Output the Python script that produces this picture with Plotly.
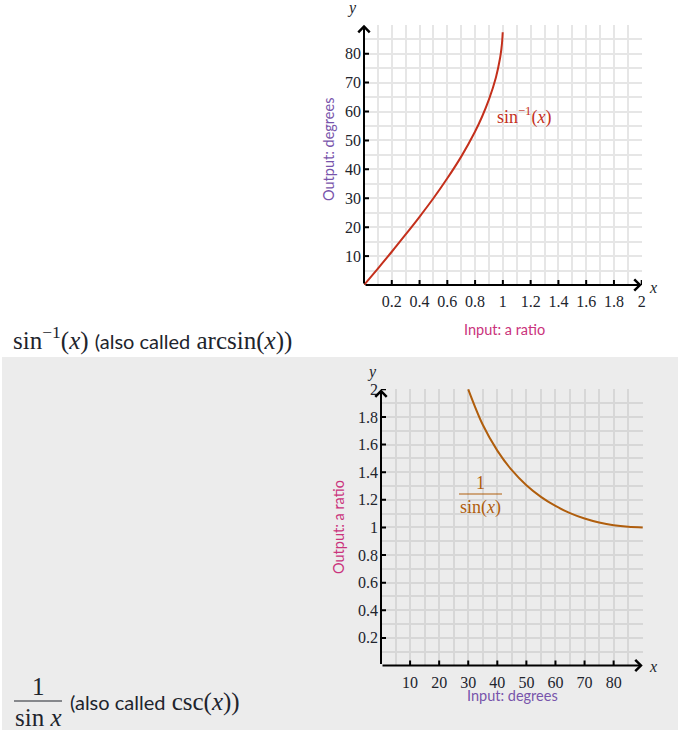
import plotly.graph_objects as go

W, H = 686, 747

# ---- data ----
asin_x = [0, 0.1, 0.2, 0.3, 0.4, 0.5, 0.6, 0.7, 0.8, 0.85, 0.9, 0.95, 0.98, 0.99, 0.995, 0.999]
asin_deg = [0, 5.7, 11.5, 17.5, 23.6, 30.0, 36.9, 44.4, 53.1, 58.2, 64.2, 71.8, 78.5, 81.9, 84.3, 87.4]

csc_deg = [30, 35, 40, 45, 50, 55, 60, 65, 70, 75, 80, 85, 90]
csc_val = [2.0, 1.743, 1.556, 1.414, 1.305, 1.221, 1.155, 1.103, 1.064, 1.035, 1.015, 1.004, 1.0]

top_xticks = [0.2, 0.4, 0.6, 0.8, 1, 1.2, 1.4, 1.6, 1.8, 2]
top_xtext = ["0.2", "0.4", "0.6", "0.8", "1", "1.2", "1.4", "1.6", "1.8", "2"]
top_yticks = [10, 20, 30, 40, 50, 60, 70, 80]
bot_xticks = [10, 20, 30, 40, 50, 60, 70, 80]
bot_yticks = [0.2, 0.4, 0.6, 0.8, 1, 1.2, 1.4, 1.6, 1.8, 2]
bot_ytext = ["0.2", "0.4", "0.6", "0.8", "1", "1.2", "1.4", "1.6", "1.8", "2"]

RED = "#c4301c"
ORANGE = "#b05e0d"
PURPLE = "#7854ab"
PINK = "#ca337c"
INK = "#21242c"
SERIF = "Liberation Serif"
SANS = "Lato"


def px(x, y):
    return x / W, 1 - y / H


fig = go.Figure()
fig.add_trace(go.Scatter(x=asin_x, y=asin_deg, mode="lines", line=dict(color=RED, width=2, shape="spline"),
                         xaxis="x", yaxis="y", hoverinfo="skip", showlegend=False))
fig.add_trace(go.Scatter(x=csc_deg, y=csc_val, mode="lines", line=dict(color=ORANGE, width=2, shape="spline"),
                         xaxis="x2", yaxis="y2", hoverinfo="skip", showlegend=False))

tickfont = dict(family=SERIF, size=16, color=INK)

x1d = [364 / W, 642 / W]
y1d = [1 - 285 / H, 1 - 24.5 / H]
x2d = [381 / W, 643 / W]
y2d = [1 - 665.5 / H, 1 - 389 / H]

fig.update_layout(
    width=W, height=H, margin=dict(l=0, r=0, t=0, b=0, autoexpand=False),
    paper_bgcolor="white", plot_bgcolor="rgba(0,0,0,0)",
    xaxis=dict(domain=x1d, range=[0, 2.002], anchor="y", tickvals=top_xticks, ticktext=top_xtext,
               ticks="", tickfont=tickfont, ticklabelstandoff=5, showline=False, zeroline=False,
               showgrid=True, gridcolor="#e6e6e6", gridwidth=2, automargin=False,
               minor=dict(dtick=0.1, tick0=0, showgrid=True, gridcolor="#e6e6e6", gridwidth=2)),
    yaxis=dict(domain=y1d, range=[0, 90.1], anchor="x", tickvals=top_yticks,
               ticks="", tickfont=tickfont, ticklabelstandoff=2, showline=False, zeroline=False,
               showgrid=True, gridcolor="#e6e6e6", gridwidth=2, automargin=False,
               minor=dict(dtick=5, tick0=0, showgrid=True, gridcolor="#e6e6e6", gridwidth=2)),
    xaxis2=dict(domain=x2d, range=[0, 90.1], anchor="y2", tickvals=bot_xticks,
                ticks="", tickfont=tickfont, ticklabelstandoff=5, showline=False, zeroline=False,
                showgrid=True, gridcolor="#d7d7d7", gridwidth=2, automargin=False,
                minor=dict(dtick=5, tick0=0, showgrid=True, gridcolor="#d7d7d7", gridwidth=2)),
    yaxis2=dict(domain=y2d, range=[0, 2.002], anchor="x2", tickvals=bot_yticks, ticktext=bot_ytext,
                ticks="", tickfont=tickfont, ticklabelstandoff=2, showline=False, zeroline=False,
                showgrid=True, gridcolor="#d7d7d7", gridwidth=2, automargin=False,
                minor=dict(dtick=0.1, tick0=0, showgrid=True, gridcolor="#d7d7d7", gridwidth=2)),
)

shapes = []
# gray background panel
x0, y0 = px(2, 730)
x1, y1 = px(678, 357)
shapes.append(dict(type="rect", xref="paper", yref="paper", x0=x0, x1=x1, y0=y0, y1=y1,
                   fillcolor="#ececec", line=dict(width=0), layer="below"))
# crossing tick marks
for xr, yr, vals in [("x", "y", top_xticks), ("x2", "y2", bot_xticks)]:
    for v in vals:
        shapes.append(dict(type="line", xref=xr, yref=yr, x0=v, x1=v, ysizemode="pixel", yanchor=0,
                           y0=-5, y1=5, line=dict(color="black", width=2)))
for xr, yr, vals in [("x", "y", top_yticks), ("x2", "y2", bot_yticks)]:
    for v in vals:
        shapes.append(dict(type="line", xref=xr, yref=yr, y0=v, y1=v, xsizemode="pixel", xanchor=0,
                           x0=-5, x1=5, line=dict(color="black", width=2)))

# fraction bars (chart label and left caption)
for (a, b, yy, col) in [(459, 502, 494, ORANGE), (14, 62, 701, INK)]:
    p0 = px(a, yy)
    p1 = px(b, yy)
    shapes.append(dict(type="line", xref="paper", yref="paper", x0=p0[0], x1=p1[0], y0=p0[1], y1=p1[1],
                       line=dict(color=col, width=1.2)))
fig.update_layout(shapes=shapes)

ann = []
# axis arrows
for xr, yr, xe, ye in [("x", "y", 2, 0), ("x", "y", 0, 90), ("x2", "y2", 90, 0), ("x2", "y2", 0, 2)]:
    ann.append(dict(x=xe, y=ye, ax=0, ay=0, xref=xr, yref=yr, axref=xr, ayref=yr, text="",
                    showarrow=True, arrowhead=4, arrowsize=1.1, arrowwidth=2, arrowcolor="black"))


def text(x, y, t, size, color, family, xanchor="center", angle=0):
    p = px(x, y)
    ann.append(dict(x=p[0], y=p[1], xref="paper", yref="paper", text=t, showarrow=False,
                    xanchor=xanchor, yanchor="middle", textangle=angle,
                    font=dict(size=size, color=color, family=family)))


# axis variable names
text(352, 8, "<i>y</i>", 16, INK, SERIF)
text(653, 287, "<i>x</i>", 16, INK, SERIF)
text(372, 372, "<i>y</i>", 16, INK, SERIF)
text(653, 666, "<i>x</i>", 16, INK, SERIF)

# axis titles
text(328, 150, "Output: degrees", 14.5, PURPLE, SANS, angle=-90)
text(504, 330, "Input: a ratio", 14.5, PINK, SANS)
text(338, 527, "Output: a ratio", 14.5, PINK, SANS, angle=-90)
text(512, 695, "Input: degrees", 14.5, PURPLE, SANS)

# curve labels
text(495, 116, "sin<sup>−1</sup>(<i>x</i>)", 18, RED, SERIF, xanchor="left")
text(480, 483, "1", 18, ORANGE, SERIF)
text(480, 507, "sin(<i>x</i>)", 18, ORANGE, SERIF)

# left captions
text(11, 338, "sin<sup>−1</sup>(<i>x</i>) <span style='font-family:Lato;font-size:20px'>(also called</span> arcsin(<i>x</i>))",
     25, INK, SERIF, xanchor="left")
text(38, 686, "1", 25, INK, SERIF)
text(38, 717, "sin <i>x</i>", 25, INK, SERIF)
text(68, 702, "<span style='font-family:Lato;font-size:20px'>(also called</span> csc(<i>x</i>))",
     25, INK, SERIF, xanchor="left")

fig.update_layout(annotations=ann)
fig.write_html("out.html")
